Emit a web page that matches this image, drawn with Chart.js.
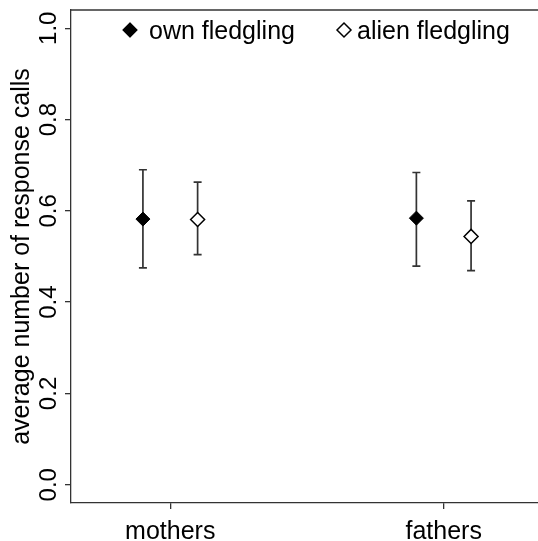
<!DOCTYPE html>
<html>
<head>
<meta charset="utf-8">
<script src="https://cdn.jsdelivr.net/npm/chart.js@4"></script>
<style>
  body { margin: 0; background: #fff; overflow: hidden; }
  #wrap { width: 538px; height: 541px; overflow: hidden; }
</style>
</head>
<body>
<!-- canvas a bit wider than the window: the plot box runs past the right edge -->
<div id="wrap"><canvas id="respChart" width="546" height="541"></canvas></div>
<script>
// data
const groups = ["mothers", "fathers"];
const seriesNames = ["own fledgling", "alien fledgling"];
const ownMean = [0.582, 0.584];
const ownLow = [0.475, 0.479];
const ownHigh = [0.690, 0.684];
const alienMean = [0.581, 0.544];
const alienLow = [0.504, 0.469];
const alienHigh = [0.663, 0.622];
const yTickValues = [0, 0.2, 0.4, 0.6, 0.8, 1.0];
const yTickLabels = ["0.0", "0.2", "0.4", "0.6", "0.8", "1.0"];

const FONT = "'Liberation Sans', Arial, Helvetica, sans-serif";
const AXIS = "#333333";
const dodge = 0.1; // side shift of the two series inside a group

function makePoints(mean, low, high, shift) {
    return mean.map((m, i) => ({ x: i + 1 + shift, y: m, lo: low[i], hi: high[i] }));
}

// error bars drawn under the diamonds
const errorBars = {
    id: "errorBars",
    beforeDatasetsDraw(chart) {
        const c = chart.ctx;
        const xs = chart.scales.x, ys = chart.scales.y;
        c.save();
        c.strokeStyle = AXIS;
        c.lineWidth = 1.7;
        chart.data.datasets.forEach(ds => {
            ds.data.forEach(p => {
                const px = xs.getPixelForValue(p.x);
                const top = ys.getPixelForValue(p.hi);
                const bot = ys.getPixelForValue(p.lo);
                c.beginPath();
                c.moveTo(px, top); c.lineTo(px, bot);
                c.moveTo(px - 4, top); c.lineTo(px + 4, top);
                c.moveTo(px - 4, bot); c.lineTo(px + 4, bot);
                c.stroke();
            });
        });
        c.restore();
    }
};

// box top line, rotated y labels, y title, legend
const extras = {
    id: "extras",
    afterDraw(chart) {
        const c = chart.ctx;
        const a = chart.chartArea;
        const ys = chart.scales.y;
        c.save();
        c.strokeStyle = AXIS;
        c.lineWidth = 1.3;
        c.beginPath();
        c.moveTo(a.left, a.top);
        c.lineTo(a.right, a.top);
        c.stroke();

        c.fillStyle = "#000";
        c.font = "24px " + FONT;
        c.textAlign = "center";
        c.textBaseline = "alphabetic";
        yTickValues.forEach((v, i) => {
            c.save();
            c.translate(56, ys.getPixelForValue(v));
            c.rotate(-Math.PI / 2);
            c.fillText(yTickLabels[i], 0, 0);
            c.restore();
        });

        c.font = "25px " + FONT;
        c.save();
        c.translate(29, (a.top + a.bottom) / 2);
        c.rotate(-Math.PI / 2);
        c.fillText("average number of response calls", 0, 0);
        c.restore();

        // legend
        const spots = [[130, 149], [344, 357]];
        c.textAlign = "left";
        c.font = "25px " + FONT;
        chart.data.datasets.forEach((ds, i) => {
            Chart.helpers.drawPoint(c, {
                pointStyle: "rectRot",
                radius: 7,
                borderWidth: ds.borderWidth
            }, spots[i][0], 30);
            c.fillStyle = ds.backgroundColor;
            c.strokeStyle = "#000";
            c.lineWidth = ds.borderWidth;
            c.fill();
            c.stroke();
            c.fillStyle = "#000";
            c.fillText(ds.label, spots[i][1], 39);
        });
        c.restore();
    }
};

new Chart(document.getElementById("respChart"), {
    type: "scatter",
    data: {
        datasets: [
            {
                label: seriesNames[0],
                data: makePoints(ownMean, ownLow, ownHigh, -dodge),
                pointStyle: "rectRot",
                pointRadius: 7,
                pointHoverRadius: 7,
                backgroundColor: "#000",
                borderColor: "#000",
                borderWidth: 1
            },
            {
                label: seriesNames[1],
                data: makePoints(alienMean, alienLow, alienHigh, dodge),
                pointStyle: "rectRot",
                pointRadius: 7,
                pointHoverRadius: 7,
                backgroundColor: "#fff",
                borderColor: "#000",
                borderWidth: 1.5
            }
        ]
    },
    options: {
        responsive: false,
        animation: false,
        layout: { autoPadding: false, padding: { top: 10, left: 0, right: 0, bottom: 0 } },
        plugins: {
            legend: { display: false },
            tooltip: { enabled: false }
        },
        scales: {
            x: {
                type: "linear",
                min: 0.637,
                max: 2.374,
                afterBuildTicks: s => { s.ticks = groups.map((g, i) => ({ value: i + 1 })); },
                afterFit: s => { s.height = 38; s.paddingLeft = 0; s.paddingRight = 0; },
                ticks: {
                    callback: (v) => groups[v - 1],
                    color: "#000",
                    font: { family: FONT, size: 25 },
                    padding: 8,
                    maxRotation: 0
                },
                grid: { drawOnChartArea: false, drawTicks: true, tickLength: 6, color: AXIS, lineWidth: 1.3 },
                border: { display: true, color: AXIS, width: 1.3 }
            },
            y: {
                min: -0.04,
                max: 1.04,
                afterBuildTicks: s => { s.ticks = yTickValues.map(v => ({ value: v })); },
                afterFit: s => { s.width = 71; s.paddingTop = 0; s.paddingBottom = 0; },
                ticks: { display: false },
                grid: { drawOnChartArea: false, drawTicks: true, tickLength: 6, color: AXIS, lineWidth: 1.3 },
                border: { display: true, color: AXIS, width: 1.3 }
            }
        }
    },
    plugins: [errorBars, extras]
});
</script>
</body>
</html>
